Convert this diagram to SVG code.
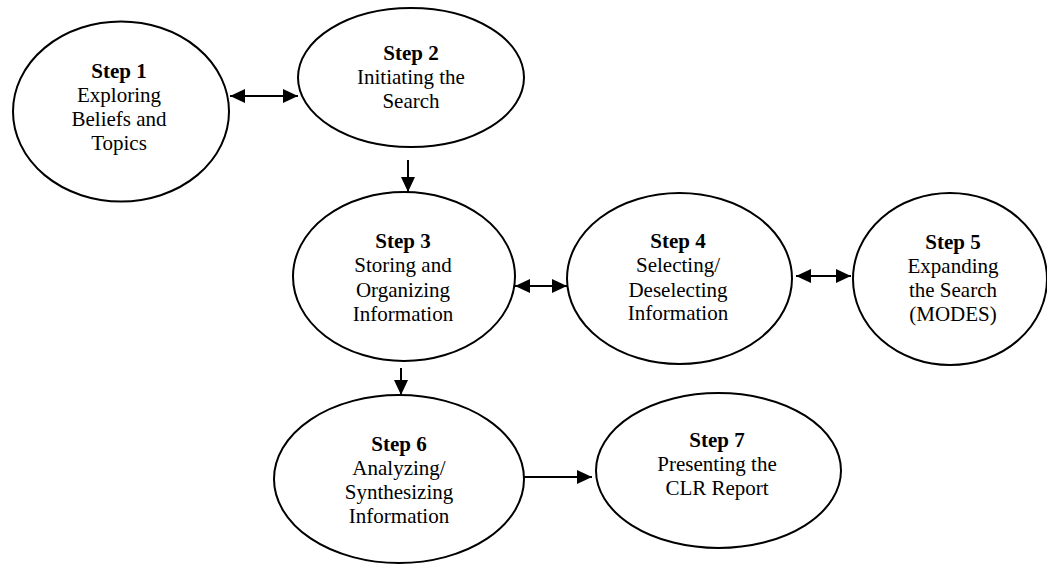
<svg xmlns="http://www.w3.org/2000/svg" width="1047" height="565" viewBox="0 0 1047 565">
<style>
.node ellipse{fill:#fff;stroke:#000;stroke-width:2}
.node text{font-family:"Liberation Serif","Times New Roman",serif;font-size:21px;fill:#000;text-anchor:middle}
.node text .b{font-weight:bold}
.conn line{stroke:#000;stroke-width:2;fill:none}
</style>
<defs>
<marker id="ah" markerUnits="userSpaceOnUse" markerWidth="15" markerHeight="14" refX="15" refY="7" orient="auto-start-reverse" viewBox="0 0 15 14">
<path d="M0,0 L15,7 L0,14 z" fill="#000"/>
</marker>
</defs>
<rect width="1047" height="565" fill="#fff"/>
<g id="connectors" class="conn">
<line x1="230" y1="96" x2="298" y2="96" marker-start="url(#ah)" marker-end="url(#ah)"/>
<line x1="408" y1="160" x2="408" y2="192" marker-end="url(#ah)"/>
<line x1="515" y1="286" x2="567" y2="286" marker-start="url(#ah)" marker-end="url(#ah)"/>
<line x1="796" y1="276" x2="851" y2="276" marker-start="url(#ah)" marker-end="url(#ah)"/>
<line x1="401" y1="368" x2="401" y2="395" marker-end="url(#ah)"/>
<line x1="524" y1="477" x2="592" y2="477" marker-end="url(#ah)"/>
</g>
<g id="step1" class="node">
<ellipse cx="121" cy="111.5" rx="108" ry="90"/>
<text x="119" y="78"><tspan class="b">Step 1</tspan><tspan x="119" y="102">Exploring</tspan><tspan x="119" y="126">Beliefs and</tspan><tspan x="119" y="150">Topics</tspan></text>
</g>
<g id="step2" class="node">
<ellipse cx="411" cy="77.5" rx="113" ry="69.5"/>
<text x="411" y="60"><tspan class="b">Step 2</tspan><tspan x="411" y="84">Initiating the</tspan><tspan x="411" y="108">Search</tspan></text>
</g>
<g id="step3" class="node">
<ellipse cx="404" cy="276.5" rx="111" ry="84.5"/>
<text x="403" y="248"><tspan class="b">Step 3</tspan><tspan x="403" y="272">Storing and</tspan><tspan x="403" y="297">Organizing</tspan><tspan x="403" y="321">Information</tspan></text>
</g>
<g id="step4" class="node">
<ellipse cx="679.5" cy="278.5" rx="112.5" ry="85.5"/>
<text x="678" y="248"><tspan class="b">Step 4</tspan><tspan x="678" y="272">Selecting/</tspan><tspan x="678" y="297">Deselecting</tspan><tspan x="678" y="320">Information</tspan></text>
</g>
<g id="step5" class="node">
<ellipse cx="950" cy="279" rx="97" ry="86"/>
<text x="953" y="249"><tspan class="b">Step 5</tspan><tspan x="953" y="273">Expanding</tspan><tspan x="953" y="297">the Search</tspan><tspan x="953" y="321">(MODES)</tspan></text>
</g>
<g id="step6" class="node">
<ellipse cx="399" cy="479" rx="125" ry="84"/>
<text x="399" y="451"><tspan class="b">Step 6</tspan><tspan x="399" y="475">Analyzing/</tspan><tspan x="399" y="499">Synthesizing</tspan><tspan x="399" y="523">Information</tspan></text>
</g>
<g id="step7" class="node">
<ellipse cx="718.5" cy="470.5" rx="122.5" ry="77.5"/>
<text x="717" y="447"><tspan class="b">Step 7</tspan><tspan x="717" y="471">Presenting the</tspan><tspan x="717" y="495">CLR Report</tspan></text>
</g>
</svg>
